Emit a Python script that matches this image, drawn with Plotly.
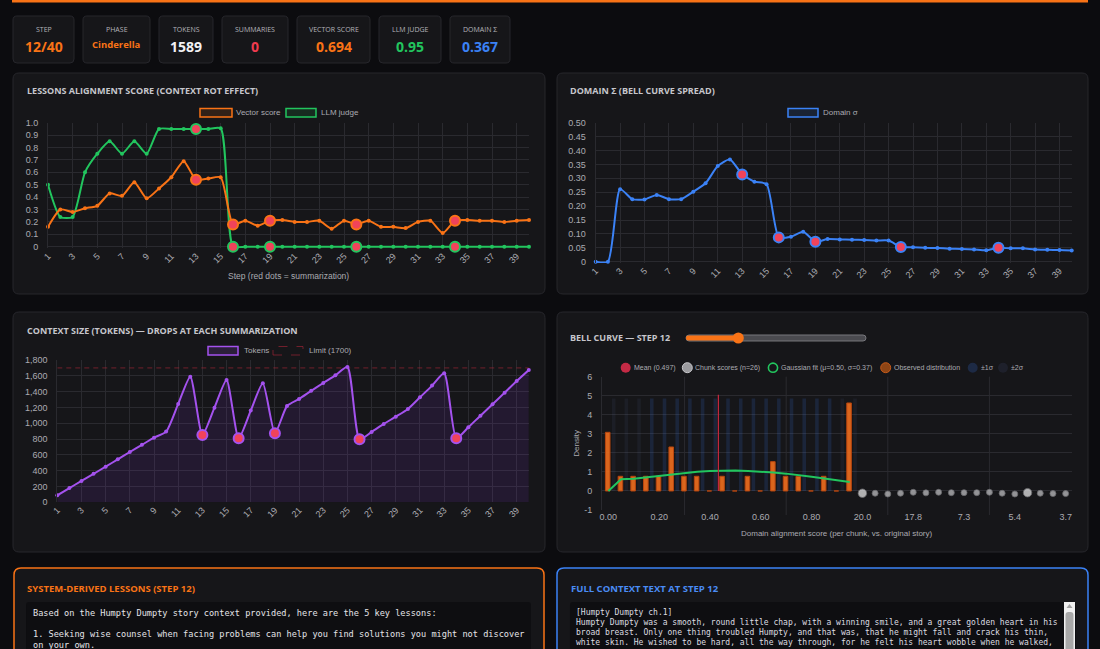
import plotly.graph_objects as go

W, H = 1100, 649

# ---------------- data ----------------
steps = list(range(1, 41))
vector_score = [0.16, 0.30, 0.28, 0.31, 0.33, 0.43, 0.41, 0.52, 0.39, 0.47,
                0.56, 0.69, 0.54, 0.55, 0.56, 0.18, 0.21, 0.17, 0.21, 0.215,
                0.20, 0.20, 0.21, 0.145, 0.21, 0.18, 0.21, 0.16, 0.16, 0.15,
                0.20, 0.21, 0.11, 0.21, 0.215, 0.21, 0.21, 0.20, 0.21, 0.215]
llm_judge = [0.50, 0.24, 0.24, 0.60, 0.75, 0.85, 0.75, 0.85, 0.75, 0.95,
             0.95, 0.95, 0.95, 0.95, 0.955, 0, 0, 0, 0, 0,
             0, 0, 0, 0, 0, 0, 0, 0, 0, 0,
             0, 0, 0, 0, 0, 0, 0, 0, 0, 0]
domain_sigma = [0, 0, 0.261, 0.225, 0.224, 0.240, 0.225, 0.225, 0.252, 0.282,
                0.344, 0.368, 0.314, 0.288, 0.279, 0.0875, 0.090, 0.108, 0.072, 0.0815,
                0.080, 0.079, 0.078, 0.076, 0.076, 0.053, 0.052, 0.050, 0.049, 0.047,
                0.046, 0.044, 0.041, 0.050, 0.048, 0.048, 0.044, 0.043, 0.042, 0.040]
tokens = [88, 180, 270, 360, 451, 543, 636, 727, 818, 894,
          1244, 1589, 852, 1197, 1547, 810, 1160, 1505, 873, 1218,
          1307, 1410, 1509, 1606, 1712, 797, 890, 991, 1083, 1180,
          1328, 1476, 1632, 810, 949, 1096, 1240, 1387, 1535, 1674]
summarization_steps = [13, 16, 19, 26, 34]
token_limit = 1700

# bell curve (step 12)
bell_tick_labels = ["0.00", "0.20", "0.40", "0.60", "0.80", "20.0", "17.8", "7.3", "5.4", "3.7"]
observed_density = [3.08, 0.77, 0.77, 0.77, 0.77, 2.31, 0.77, 0.77, 0, 0.77,
                    0, 0.77, 0, 1.54, 0.77, 0.77, 0, 0.77, 0, 4.62]
gaussian_fit = [0, 0.62, 0.64, 0.72, 0.80, 0.88, 0.95, 1.01, 1.05, 1.07,
                1.07, 1.05, 1.02, 0.97, 0.91, 0.84, 0.75, 0.66, 0.57, 0.47]
sigma1_band = [0, 0, 0, 4.85, 4.85, 4.85, 4.85, 4.85, 4.85, 4.85,
               4.85, 4.85, 4.85, 4.85, 4.85, 4.85, 4.85, 4.85, 0, 0]
sigma2_band = [4.85, 4.85, 4.85, 0, 0, 0, 0, 0, 0, 0,
               0, 0, 0, 0, 0, 0, 0, 0, 4.85, 4.85]
chunk_scores_y = [-0.12, -0.12, -0.16, -0.12, -0.07, -0.10, -0.07, -0.09, -0.09,
                  -0.09, -0.07, -0.12, -0.16, -0.09, -0.12, -0.14, -0.14]
chunk_first_index = 20
mean_value = 0.497
mean_line_pos = 8.66
mean_line_top = 5.05

stats_labels = ["STEP", "PHASE", "TOKENS", "SUMMARIES", "VECTOR SCORE", "LLM JUDGE", "DOMAIN Σ"]
stats_values = ["12/40", "Cinderella", "1589", "0", "0.694", "0.95", "0.367"]

lessons_lines = [
    "Based on the Humpty Dumpty story context provided, here are the 5 key lessons:",
    "",
    "1. Seeking wise counsel when facing problems can help you find solutions you might not discover",
    "on your own.",
]
context_lines = [
    "[Humpty Dumpty ch.1]",
    "Humpty Dumpty was a smooth, round little chap, with a winning smile, and a great golden heart in his",
    "broad breast. Only one thing troubled Humpty, and that was, that he might fall and crack his thin,",
    "white skin. He wished to be hard, all the way through, for he felt his heart wobble when he walked,",
]

# ---------------- style ----------------
BG = "#0c0c0f"
PANEL = "#161619"
BORDER = "#27272c"
GRID = "#2a2a2f"
TICK = "#ababb1"
TITLE = "#c6c6cc"
ORANGE = "#f97316"
GREEN = "#22c55e"
BLUE = "#3b82f6"
PURPLE = "#a452ee"
RED = "#f0435a"
SANS = "Liberation Sans, Arial, sans-serif"
HEAD = "Open Sans, Noto Sans, sans-serif"
MONO = "DejaVu Sans Mono, monospace"


def X(px):
    return px / W


def Y(py):
    return 1 - py / H


shapes = []
annotations = []


def P(x, y):
    return f"{X(x):.5f},{Y(y):.5f}"


def rrect(x0, y0, x1, y1, r, fill, line=None, lw=1, dash=None, layer="below"):
    path = (f"M{P(x0 + r, y0)} L{P(x1 - r, y0)} Q{P(x1, y0)} {P(x1, y0 + r)} "
            f"L{P(x1, y1 - r)} Q{P(x1, y1)} {P(x1 - r, y1)} L{P(x0 + r, y1)} "
            f"Q{P(x0, y1)} {P(x0, y1 - r)} L{P(x0, y0 + r)} Q{P(x0, y0)} {P(x0 + r, y0)} Z")
    ln = dict(width=lw if line else 0, color=line or "rgba(0,0,0,0)")
    if dash:
        ln["dash"] = dash
    shapes.append(dict(type="path", path=path, xref="paper", yref="paper",
                       fillcolor=fill, line=ln, layer=layer))


def rect(x0, y0, x1, y1, fill, line=None, lw=1, dash=None, layer="below"):
    ln = dict(width=lw if line else 0, color=line or "rgba(0,0,0,0)")
    if dash:
        ln["dash"] = dash
    shapes.append(dict(type="rect", xref="paper", yref="paper", x0=X(x0), x1=X(x1),
                       y0=Y(y1), y1=Y(y0), fillcolor=fill, line=ln, layer=layer))


def circle(cx, cy, r, fill, line=None, lw=1, layer="above"):
    shapes.append(dict(type="circle", xref="paper", yref="paper", x0=X(cx - r), x1=X(cx + r),
                       y0=Y(cy + r), y1=Y(cy - r), fillcolor=fill,
                       line=dict(width=lw if line else 0, color=line or "rgba(0,0,0,0)"), layer=layer))


def txt(x, y, s, size, color, bold=False, family=SANS, xanchor="left", yanchor="middle", angle=0):
    annotations.append(dict(x=X(x), y=Y(y), xref="paper", yref="paper",
                            text=f"<b>{s}</b>" if bold else s, showarrow=False,
                            xanchor=xanchor, yanchor=yanchor, textangle=angle,
                            font=dict(size=size, color=color, family=family), borderpad=0))


# ---------------- page chrome ----------------
rect(12, 0, 1088, 2.5, ORANGE)

card_x = [(13, 74), (83, 150), (159, 213), (222, 288), (297, 370), (379, 441), (450, 510)]
value_colors = [ORANGE, ORANGE, "#f1f1f4", "#ef3b4f", ORANGE, GREEN, BLUE]
for (x0, x1), lab, val, col in zip(card_x, stats_labels, stats_values, value_colors):
    rrect(x0, 16, x1, 63, 4, PANEL, BORDER, 1)
    cx = (x0 + x1) / 2
    txt(cx, 30, lab, 7, "#b4b4ba", family=HEAD, xanchor="center")
    if lab == "PHASE":
        txt(cx, 45, val, 9.5, col, bold=True, family=HEAD, xanchor="center")
    else:
        txt(cx, 46, val, 14, col, bold=True, family=HEAD, xanchor="center")

# chart panels
for (x0, y0, x1, y1) in [(13, 73, 545, 294), (557, 73, 1088, 294),
                         (13, 312, 545, 552), (557, 312, 1088, 552)]:
    rrect(x0, y0, x1, y1, 6, PANEL, BORDER, 1)

txt(26, 91, "LESSONS ALIGNMENT SCORE (CONTEXT ROT EFFECT)", 9, TITLE, bold=True, family=HEAD)
txt(569, 91, "DOMAIN Σ (BELL CURVE SPREAD)", 9, TITLE, bold=True, family=HEAD)
txt(26, 330, "CONTEXT SIZE (TOKENS) — DROPS AT EACH SUMMARIZATION", 9, TITLE, bold=True, family=HEAD)
txt(569, 337, "BELL CURVE — STEP 12", 9, TITLE, bold=True, family=HEAD)

# slider
rrect(686, 335, 866, 341, 3, "#4a4a4f", "#77777c", 1, layer="above")
rrect(686, 335.5, 738, 340.5, 2.5, ORANGE, layer="above")
circle(738.3, 338, 5.5, ORANGE)

# legends chart 1
rect(200, 108.5, 232, 117, "rgba(249,115,22,0.12)", ORANGE, 1.5, layer="above")
txt(235, 112.7, "Vector score", 8, TICK)
rect(286, 108.5, 316, 117, "rgba(34,197,94,0.12)", GREEN, 1.5, layer="above")
txt(320, 112.7, "LLM judge", 8, TICK)
# legend chart 2
rect(788, 108.5, 818, 117, "rgba(59,130,246,0.12)", BLUE, 1.5, layer="above")
txt(822, 112.7, "Domain σ", 8, TICK)
# legend chart 3
rect(208, 346.5, 238, 355, "rgba(168,85,247,0.15)", PURPLE, 1.5, layer="above")
txt(242.5, 350.7, "Tokens", 8, TICK)
rect(273, 346.5, 303, 355, "rgba(0,0,0,0)", "rgba(190,40,60,0.55)", 1, dash="dash", layer="above")
txt(307.5, 350.7, "Limit (1700)", 8, TICK)
# legend chart 4
ly = 367.7
circle(625.7, ly, 5, "#c42a45")
txt(632.5, ly, f"Mean ({mean_value})", 7, TICK)
circle(687.3, ly, 5, "#9a9a9e", "#c8c8cc", 1)
txt(694.3, ly, "Chunk scores (n=26)", 7, TICK)
circle(773, ly, 4.6, PANEL, GREEN, 1.6)
txt(780.3, ly, "Gaussian fit (μ=0.50, σ=0.37)", 7, TICK)
circle(885.7, ly, 5, "#8e4515", "#c45a1a", 1)
txt(893.3, ly, "Observed distribution", 7, TICK)
circle(972.7, ly, 5, "#1d2a45")
txt(980, ly, "±1σ", 7, TICK)
circle(1003, ly, 5, "#1e202b")
txt(1010, ly, "±2σ", 7, TICK)

# axis titles
txt(288.5, 276, "Step (red dots = summarization)", 8.5, TICK, xanchor="center")
txt(837, 533.5, "Domain alignment score (per chunk, vs. original story)", 8, TICK, xanchor="center")
txt(575.7, 443, "Density", 8, TICK, xanchor="center", angle=-90)

# bottom panels
rrect(14, 568, 544, 720, 7, PANEL, ORANGE, 1.5)
txt(26, 588.5, "SYSTEM-DERIVED LESSONS (STEP 12)", 9.5, ORANGE, bold=True, family=HEAD)
rrect(26, 602, 531, 720, 3, "#0e0e11")
for i, line in enumerate(lessons_lines):
    if line:
        txt(31.5, 612.5 + i * 10.7, line, 8.6, "#e4e4e8", family=MONO)

rrect(557, 568, 1088, 720, 7, PANEL, BLUE, 1.5)
txt(570, 588.5, "FULL CONTEXT TEXT AT STEP 12", 9.5, "#4a8cf5", bold=True, family=HEAD)
rrect(570, 602, 1076, 720, 3, "#0e0e11")
for i, line in enumerate(context_lines):
    txt(575.3, 612 + i * 10.3, line, 8, "#dcdce0", family=MONO)
# scrollbar
rect(1064, 602, 1075, 720, "#f0f0f0", layer="above")
shapes.append(dict(type="path", xref="paper", yref="paper", layer="above",
                   path=f"M{P(1066.5, 608)} L{P(1072.5, 608)} L{P(1069.5, 604)} Z",
                   fillcolor="#a3a3a3", line=dict(width=0)))
rrect(1065.5, 612, 1073.5, 720, 3, "#a8a8a8", layer="above")

# ---------------- traces ----------------
fig = go.Figure()

sum_idx = [s - 1 for s in summarization_steps]

# chart 1
fig.add_trace(go.Scatter(x=steps, y=llm_judge, mode="lines+markers", xaxis="x", yaxis="y",
                         line=dict(color=GREEN, width=2, shape="spline", smoothing=0.6),
                         marker=dict(size=4, color=GREEN), cliponaxis=False))
fig.add_trace(go.Scatter(x=steps, y=vector_score, mode="lines+markers", xaxis="x", yaxis="y",
                         line=dict(color=ORANGE, width=2, shape="spline", smoothing=0.6),
                         marker=dict(size=4, color=ORANGE), cliponaxis=False))
fig.add_trace(go.Scatter(x=summarization_steps, y=[llm_judge[i] for i in sum_idx], mode="markers",
                         xaxis="x", yaxis="y", cliponaxis=False,
                         marker=dict(size=10, color=RED, line=dict(color=GREEN, width=2))))
fig.add_trace(go.Scatter(x=summarization_steps, y=[vector_score[i] for i in sum_idx], mode="markers",
                         xaxis="x", yaxis="y", cliponaxis=False,
                         marker=dict(size=10, color=RED, line=dict(color=ORANGE, width=2))))

# chart 2
fig.add_trace(go.Scatter(x=steps, y=domain_sigma, mode="lines+markers", xaxis="x2", yaxis="y2",
                         line=dict(color=BLUE, width=2, shape="spline", smoothing=0.6),
                         marker=dict(size=4, color=BLUE), cliponaxis=False))
fig.add_trace(go.Scatter(x=summarization_steps, y=[domain_sigma[i] for i in sum_idx], mode="markers",
                         xaxis="x2", yaxis="y2", cliponaxis=False,
                         marker=dict(size=10, color=RED, line=dict(color=BLUE, width=2))))

# chart 3
fig.add_trace(go.Scatter(x=[steps[0], steps[-1]], y=[token_limit, token_limit], mode="lines",
                         xaxis="x3", yaxis="y3",
                         line=dict(color="rgba(190,40,60,0.55)", width=1, dash="5px,4px")))
fig.add_trace(go.Scatter(x=steps, y=tokens, mode="lines+markers", xaxis="x3", yaxis="y3",
                         fill="tozeroy", fillcolor="rgba(147,51,234,0.11)",
                         line=dict(color=PURPLE, width=2, shape="spline", smoothing=0.6),
                         marker=dict(size=4, color=PURPLE), cliponaxis=False))
fig.add_trace(go.Scatter(x=summarization_steps, y=[tokens[i] for i in sum_idx], mode="markers",
                         xaxis="x3", yaxis="y3", cliponaxis=False,
                         marker=dict(size=10, color=RED, line=dict(color=PURPLE, width=2))))

# chart 4
bins = list(range(len(observed_density)))
fig.add_trace(go.Bar(x=[i + 0.42 for i in bins], y=sigma2_band, width=0.28, xaxis="x4", yaxis="y4",
                     marker=dict(color="rgba(90,110,160,0.10)", line=dict(width=0))))
fig.add_trace(go.Bar(x=[i + 0.42 for i in bins], y=sigma1_band, width=0.28, xaxis="x4", yaxis="y4",
                     marker=dict(color="rgba(59,130,246,0.15)", line=dict(width=0))))
fig.add_trace(go.Bar(x=[i - 0.05 for i in bins], y=observed_density, width=0.36, xaxis="x4", yaxis="y4",
                     marker=dict(color="rgba(240,110,30,0.9)", line=dict(color="#b8460f", width=1))))
fig.add_trace(go.Scatter(x=bins, y=gaussian_fit, mode="lines", xaxis="x4", yaxis="y4",
                         line=dict(color=GREEN, width=2)))
fig.add_trace(go.Scatter(x=[mean_line_pos, mean_line_pos], y=[0, mean_line_top], mode="lines",
                         xaxis="x4", yaxis="y4", line=dict(color="#c8283f", width=1.2)))
chunk_x = [chunk_first_index + i for i in range(len(chunk_scores_y))]
chunk_sizes = [8.5 if i in (0, 13) else 6 for i in range(len(chunk_scores_y))]
chunk_cols = ["#f2f2f2" if i in (0, 13) else "#c9c9cc" for i in range(len(chunk_scores_y))]
fig.add_trace(go.Scatter(x=chunk_x, y=chunk_scores_y, mode="markers", xaxis="x4", yaxis="y4",
                         cliponaxis=False,
                         marker=dict(size=chunk_sizes, color=chunk_cols, line=dict(color="#8a8a8e", width=0.8))))

# vertical grid lines of bell chart
for gx in [6, 14, 22, 30]:
    shapes.append(dict(type="line", xref="x4", yref="paper", x0=gx, x1=gx, y0=Y(515), y1=Y(376.7),
                       line=dict(color=GRID, width=1), layer="below"))

tickfont = dict(size=9, color=TICK, family=SANS)
odd_steps = [s for s in steps if s % 2 == 1]


def step_xaxis(d0, d1, anchor):
    return dict(domain=[X(d0), X(d1)], range=[1, 40], anchor=anchor, tickvals=odd_steps,
                tickangle=-45, showgrid=True, gridcolor=GRID, gridwidth=1, zeroline=False,
                ticks="", tickfont=tickfont, showline=False, fixedrange=True, automargin=False)


def yaxis(top, bottom, rng, vals, texts, anchor):
    return dict(domain=[Y(bottom), Y(top)], range=rng, anchor=anchor, tickvals=vals, ticktext=texts,
                showgrid=True, gridcolor=GRID, gridwidth=1, zeroline=False, ticks="",
                tickfont=tickfont, showline=True, linecolor=GRID, ticklabelstandoff=7,
                fixedrange=True, automargin=False)


y1_vals = [i / 10 for i in range(11)]
y1_text = ["0"] + [f"{v:.1f}" for v in y1_vals[1:]]
y2_vals = [i * 0.05 for i in range(11)]
y2_text = ["0"] + [f"{v:.2f}" for v in y2_vals[1:]]
y3_vals = list(range(0, 1801, 200))
y3_text = [f"{v:,}" for v in y3_vals]
y4_vals = list(range(-1, 7))

fig.update_layout(
    width=W, height=H, autosize=False,
    margin=dict(l=0, r=0, t=0, b=0, pad=0, autoexpand=False),
    paper_bgcolor=BG, plot_bgcolor="rgba(0,0,0,0)",
    showlegend=False, barmode="overlay",
    font=dict(family=SANS, color=TICK),
    xaxis=step_xaxis(48, 529, "y"),
    yaxis=yaxis(122.7, 248.2, [-0.012, 1.0], y1_vals, y1_text, "x"),
    xaxis2=step_xaxis(595.7, 1071.7, "y2"),
    yaxis2=yaxis(122.7, 263.1, [-0.005, 0.5], y2_vals, y2_text, "x2"),
    xaxis3=step_xaxis(57.3, 528.8, "y3"),
    yaxis3=yaxis(360, 502.3, [0, 1800], y3_vals, y3_text, "x3"),
    xaxis4=dict(domain=[X(602), X(1072)], range=[-0.5, 36.5], anchor="y4",
                tickvals=[i * 4 for i in range(len(bell_tick_labels))], ticktext=bell_tick_labels,
                showgrid=False, zeroline=False, ticks="", tickfont=tickfont, fixedrange=True,
                automargin=False),
    yaxis4=yaxis(376.7, 510, [-1, 6], y4_vals, [str(v) for v in y4_vals], "x4"),
    shapes=shapes, annotations=annotations,
)

fig.write_html(
    "out.html",
    config={"displayModeBar": False},
    post_script="document.body.style.margin='0';document.body.style.background='%s';"
                "document.body.style.overflow='hidden';" % BG,
)
